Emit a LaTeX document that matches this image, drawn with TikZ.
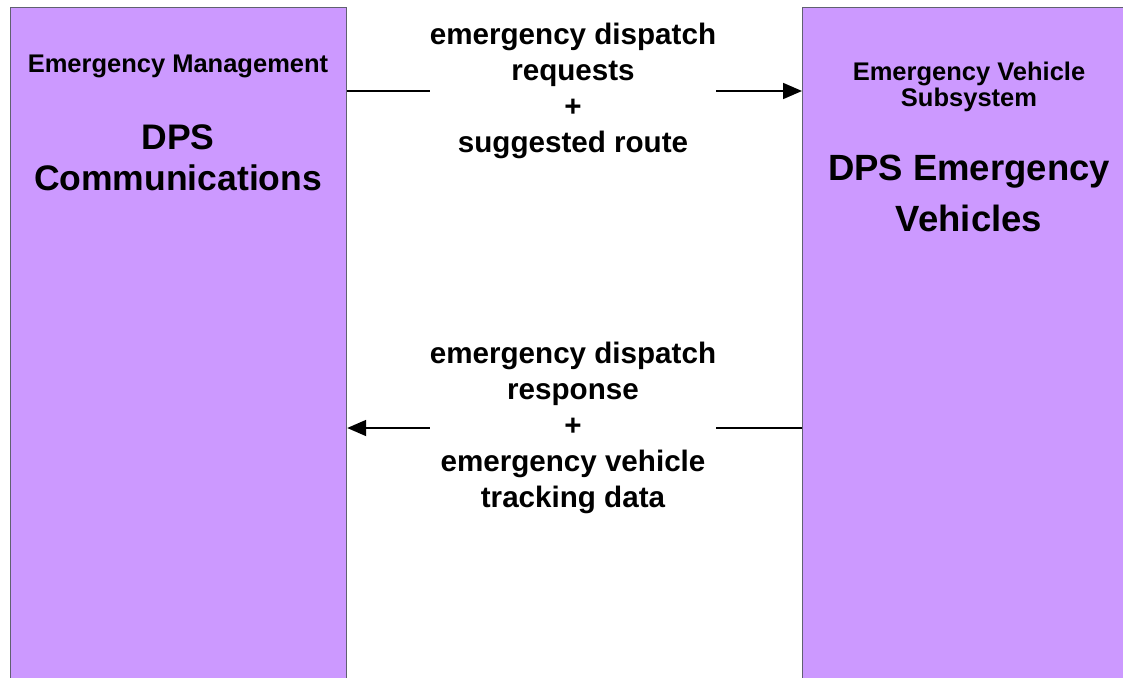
\documentclass[tikz,border=0pt]{standalone}
\usepackage{fontspec}
\setmainfont{Liberation Sans}
\usetikzlibrary{arrows.meta}
\usetikzlibrary{positioning}

\definecolor{boxlilac}{HTML}{CC99FF}
\definecolor{boxedge}{HTML}{606070}

\tikzset{
  sysbox/.style={rectangle,fill=boxlilac,draw=boxedge,line width=1.2pt,inner sep=0pt,anchor=north west},
  classtext/.style={font=\bfseries\fontsize{25.5}{26}\selectfont,align=center,inner sep=0pt},
  nametext/.style={font=\bfseries\fontsize{35.5}{41}\selectfont,align=center,inner sep=0pt},
  flowlabel/.style={font=\bfseries\fontsize{29.6}{36}\selectfont,align=center,inner sep=0pt},
  flow/.style={line width=1.8pt},
  flowtip/.style={-{Triangle[length=19pt,width=16pt]}}
}

\begin{document}
\begin{tikzpicture}[x=1pt,y=-1pt]
\useasboundingbox (0,0) rectangle (1123,677);
% the two subsystems
\node[sysbox,minimum width=336pt,minimum height=700pt] (ems) at (10,7) {};
\node[sysbox,minimum width=334pt,minimum height=700pt] (evs) at (802,7) {};

\node[classtext] (emsclass) at (178,66) {Emergency Management};
\node[nametext] (emsname) at (178,158) {DPS\\Communications};

\node[classtext] (evsclass) at (969,87) {Emergency Vehicle\\Subsystem};
\node[nametext,font=\bfseries\fontsize{36.5}{51}\selectfont] (evsname) at (969,193) {DPS Emergency\\Vehicles};

% flow labels
\node[flowlabel] (reqlabel) at (573,91) {emergency dispatch\\requests\\+\\suggested route};
\node[flowlabel] (rsplabel) at (573,428) {emergency dispatch\\response\\+\\emergency vehicle\\tracking data};

% flows
\draw[flow] (ems.east |- reqlabel.west) -- (reqlabel.west);
\draw[flow,flowtip] (reqlabel.east) -- (evs.west |- reqlabel.east);
\draw[flow] (evs.west |- rsplabel.east) -- (rsplabel.east);
\draw[flow,flowtip] (rsplabel.west) -- (ems.east |- rsplabel.west);

\end{tikzpicture}
\end{document}
